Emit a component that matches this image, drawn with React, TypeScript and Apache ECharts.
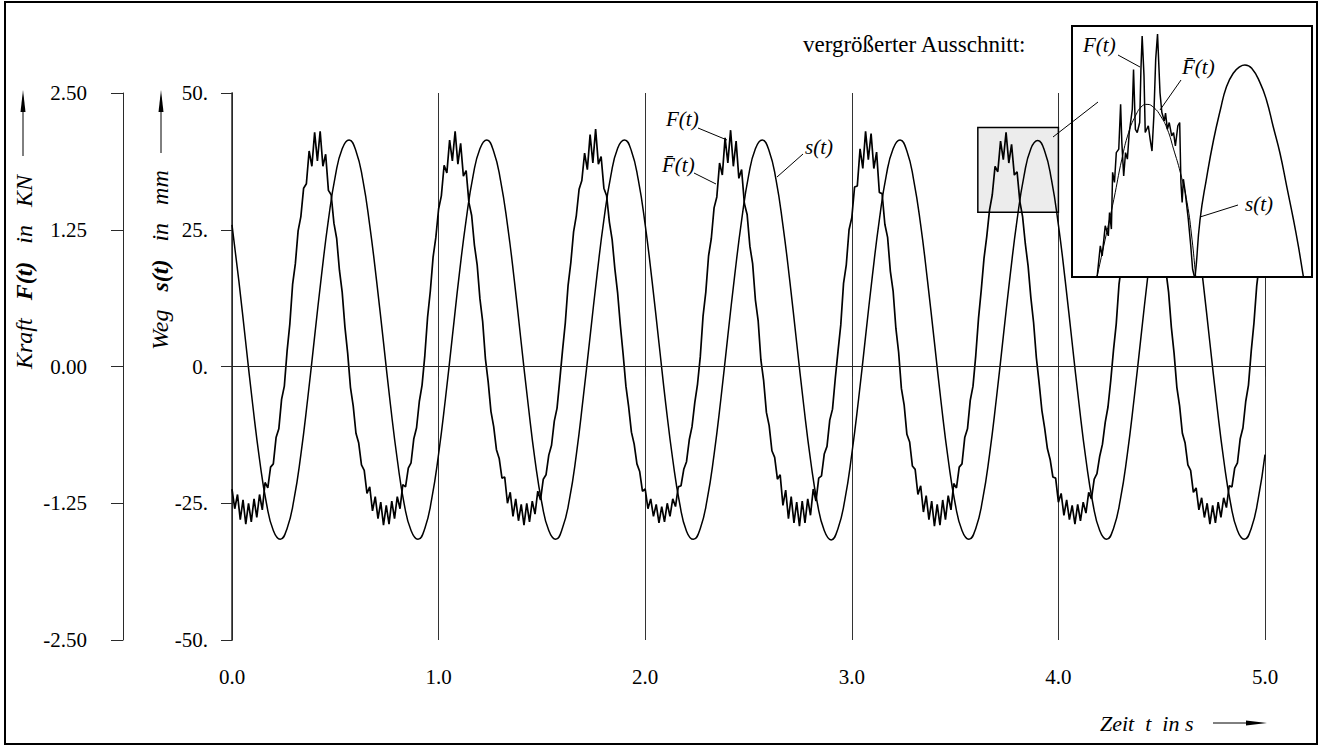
import React, { useEffect, useRef } from 'react';
import * as echarts from 'echarts';

// Weg s(t) in mm, sampled every 1/30 s from t = 0 to t = 5
const WEG_DT = 1 / 30;
const wegMM = [
  25.9, 15.6, 4.3, -6.9, -17.0, -25.0, -30.0, -31.6, -29.6, -24.3, -16.1, -5.8, 5.5, 16.7, 26.8, 34.8, 39.8, 41.4, 39.4, 34.1,
  25.8, 15.6, 4.4, -6.9, -17.0, -25.1, -30.0, -31.6, -29.6, -24.2, -16.0, -5.8, 5.5, 16.8, 26.8, 34.8, 39.8, 41.4, 39.3, 34.0,
  25.9, 15.7, 4.3, -6.9, -17.1, -25.0, -30.0, -31.6, -29.5, -24.3, -16.1, -5.7, 5.5, 16.7, 26.8, 34.8, 39.9, 41.4, 39.4, 34.1,
  25.9, 15.6, 4.3, -7.0, -17.0, -25.0, -30.1, -31.6, -29.6, -24.3, -16.1, -5.8, 5.6, 16.7, 26.7, 34.8, 39.8, 41.4, 39.4, 34.1,
  25.8, 15.6, 4.3, -6.9, -17.0, -25.0, -30.0, -31.7, -29.6, -24.3, -16.0, -5.8, 5.5, 16.7, 26.8, 34.9, 39.8, 41.4, 39.4, 34.0,
  25.9, 15.6, 4.4, -6.9, -17.0, -25.0, -30.0, -31.6, -29.6, -24.3, -16.1, -5.8, 5.5, 16.7, 26.8, 34.8, 39.8, 41.3, 39.4, 34.1,
  25.9, 15.6, 4.3, -6.9, -17.0, -25.0, -30.0, -31.6, -29.6, -24.3, -16.1, -5.8, 5.5, 16.7, 26.8, 34.8, 39.8, 41.4, 39.4, 34.1,
  25.9, 15.6, 4.3, -6.9, -17.0, -25.0, -30.0, -31.6, -29.6, -24.3, -16.1,
];

// Kraft F(t) in kN, sampled every 1/75 s from t = 0 to t = 5
const FORCE_DT = 1 / 75;
const forceStart = [-1.12, -1.30, -1.17, -1.40, -1.22, -1.44, -1.25, -1.42, -1.21, -1.38, -1.17, -1.31, -1.06, -1.11, -0.92, -0.89, -0.65, -0.57, -0.30, -0.18];
const forceCycle1 = [0.14, 0.39, 0.75, 0.94, 1.24, 1.37, 1.63, 1.67, 1.97, 1.83, 2.14, 1.88, 2.15, 1.83, 1.94, 1.61, 1.57, 1.31, 1.17, 0.88, 0.68, 0.36, 0.12, -0.19, -0.36, -0.61, -0.70, -0.90, -0.95, -1.16, -1.10, -1.32, -1.19, -1.39, -1.24, -1.45, -1.27, -1.44, -1.23, -1.39, -1.19, -1.30, -1.08, -1.10, -0.93, -0.88, -0.66, -0.56, -0.32, -0.17];
const forceCycle2 = [0.10, 0.45, 0.69, 1.00, 1.18, 1.44, 1.56, 1.84, 1.77, 2.07, 1.88, 2.15, 1.85, 2.04, 1.74, 1.79, 1.50, 1.38, 1.11, 0.93, 0.62, 0.41, 0.07, -0.14, -0.41, -0.55, -0.76, -0.84, -1.02, -1.01, -1.25, -1.15, -1.37, -1.21, -1.41, -1.26, -1.45, -1.25, -1.42, -1.23, -1.35, -1.14, -1.22, -1.03, -0.99, -0.81, -0.72, -0.50, -0.38, -0.12];
const forceCycle3 = [0.15, 0.40, 0.74, 0.95, 1.23, 1.38, 1.62, 1.70, 1.95, 1.80, 2.12, 1.86, 2.17, 1.85, 1.92, 1.63, 1.56, 1.32, 1.16, 0.89, 0.67, 0.37, 0.11, -0.18, -0.37, -0.60, -0.71, -0.89, -0.96, -1.14, -1.12, -1.30, -1.21, -1.37, -1.26, -1.43, -1.28, -1.42, -1.25, -1.37, -1.21, -1.28, -1.10, -1.09, -0.94, -0.87, -0.67, -0.55, -0.33, -0.16];
const forceCycle4 = [0.09, 0.46, 0.68, 1.01, 1.17, 1.45, 1.55, 1.86, 1.75, 2.09, 1.86, 2.16, 1.83, 2.06, 1.72, 1.80, 1.49, 1.39, 1.10, 0.94, 0.61, 0.42, 0.06, -0.13, -0.42, -0.54, -0.77, -0.83, -1.03, -0.99, -1.27, -1.13, -1.39, -1.19, -1.43, -1.24, -1.46, -1.23, -1.43, -1.21, -1.36, -1.12, -1.23, -1.02, -1.00, -0.80, -0.73, -0.49, -0.39, -0.11];
const forceCycle5 = [0.14, 0.38, 0.76, 0.93, 1.25, 1.36, 1.64, 1.65, 1.99, 1.81, 2.15, 1.89, 2.13, 1.81, 1.96, 1.59, 1.58, 1.30, 1.18, 0.87, 0.69, 0.35, 0.13, -0.20, -0.35, -0.62, -0.69, -0.91, -0.94, -1.17, -1.09, -1.33, -1.18, -1.40, -1.23, -1.46, -1.26, -1.45, -1.22, -1.40, -1.18, -1.31, -1.07, -1.11, -0.92, -0.89, -0.65, -0.57, -0.31, -0.18];
const forceCycle6 = [0.10, 0.44, 0.70, 0.99, 1.19, 1.43, 1.57, 1.83, 1.78, 2.06, 1.89, 2.14, 1.86, 2.03, 1.75, 1.78, 1.51, 1.37, 1.12, 0.92, 0.63, 0.40, 0.08, -0.15, -0.40, -0.56, -0.75, -0.85, -1.01, -1.02, -1.24, -1.16, -1.36, -1.22, -1.40, -1.27, -1.44, -1.26, -1.41, -1.24, -1.34, -1.15, -1.21, -1.03, -0.98, -0.82, -0.71, -0.51, -0.37, -0.13];
const forceCycle7 = [0.15, 0.39, 0.75, 0.94, 1.24, 1.37, 1.62, 1.68, 1.96, 1.84, 2.13, 1.87, 2.16, 1.84, 1.93, 1.62, 1.57, 1.31, 1.17, 0.88, 0.68, 0.36, 0.12, -0.19, -0.36, -0.61, -0.70, -0.90, -0.95, -1.15, -1.11, -1.31, -1.20, -1.38, -1.25, -1.44, -1.27, -1.43, -1.24, -1.38, -1.20, -1.29, -1.09, -1.10, -0.93, -0.88, -0.66, -0.56, -0.32, -0.17];
const forceEnd = [0.14, 0.40, 0.74, 0.95, 1.23, 1.38];

// Enlarged detail (inset): t in s, F in kN, s in mm
const insetForceT = [3.646, 3.651, 3.656, 3.659, 3.664, 3.669, 3.671, 3.674, 3.676, 3.679, 3.682, 3.686, 3.689, 3.691, 3.694, 3.697, 3.700, 3.703, 3.708, 3.710, 3.713, 3.716, 3.720, 3.722, 3.724, 3.727, 3.729, 3.734, 3.737, 3.740, 3.743, 3.746, 3.749, 3.753, 3.756, 3.760, 3.762, 3.765, 3.768, 3.772, 3.775, 3.778, 3.782, 3.785, 3.787, 3.789, 3.791, 3.794, 3.799, 3.803, 3.806, 3.810, 3.814];
const insetForceKN = [1.365, 1.414, 1.506, 1.475, 1.568, 1.537, 1.609, 1.558, 1.733, 1.702, 1.794, 1.805, 1.943, 1.825, 1.722, 1.794, 1.774, 1.856, 1.928, 2.051, 1.866, 1.856, 1.887, 2.051, 2.154, 2.031, 1.856, 1.877, 1.835, 1.799, 1.907, 2.082, 2.160, 1.979, 1.918, 1.892, 1.916, 1.866, 1.887, 1.846, 1.856, 1.815, 1.877, 1.887, 1.702, 1.640, 1.712, 1.671, 1.588, 1.506, 1.434, 1.403, 1.360];
const insetMeanT = [3.647, 3.651, 3.664, 3.678, 3.691, 3.702, 3.713, 3.724, 3.732, 3.743, 3.754, 3.765, 3.775, 3.786, 3.797, 3.805, 3.811, 3.813];
const insetMeanKN = [1.38, 1.414, 1.527, 1.650, 1.774, 1.856, 1.907, 1.938, 1.943, 1.933, 1.907, 1.866, 1.805, 1.733, 1.640, 1.527, 1.414, 1.38];
const insetWegT = [3.806, 3.810, 3.818, 3.829, 3.840, 3.851, 3.861, 3.872, 3.883, 3.891, 3.902, 3.916, 3.926, 3.937, 3.948, 3.959, 3.970, 3.978, 3.986, 3.990];
const insetWegMM = [27.6, 28.22, 31.72, 34.39, 36.66, 38.51, 39.95, 40.78, 41.19, 41.29, 41.09, 40.16, 39.13, 37.48, 35.84, 33.78, 31.72, 30.07, 28.22, 27.4];

// Axis ranges / ticks
const timeRange = [0, 5];
const timeStep = 1;
const wegRange = [-50, 50];
const wegStep = 25;
const kraftRange = [-2.5, 2.5];
const kraftStep = 1.25;
const detailTime = [3.61, 4.0];
const detailWeg = [28.2, 43.7];

const SERIF = "'Liberation Serif', 'Times New Roman', serif";
const INK = '#000';
const AX = '#2a2a2a';
const NB = '\u00a0';

export default function App() {
  const ref = useRef<HTMLDivElement>(null);

  useEffect(() => {
    const chart = echarts.init(ref.current as HTMLDivElement, null, { renderer: 'svg' });

    const forceKN = [
      ...forceStart, ...forceCycle1, ...forceCycle2, ...forceCycle3, ...forceCycle4,
      ...forceCycle5, ...forceCycle6, ...forceCycle7, ...forceEnd,
    ];
    const wegData = wegMM.map((v, i) => [i * WEG_DT, v]);
    const forceData = forceKN.map((v, i) => [i * FORCE_DT, v]);
    const insetForce = insetForceT.map((t, i) => [t, insetForceKN[i]]);
    const insetMean = insetMeanT.map((t, i) => [t, insetMeanKN[i]]);
    const insetWeg = insetWegT.map((t, i) => [t, insetWegMM[i]]);

    const labelFont = { fontFamily: SERIF, fontSize: 21, color: INK };
    const it = (size: number) => `italic ${size}px ${SERIF}`;
    const titleRich = {
      i: { fontStyle: 'italic', fontSize: 24, fontFamily: SERIF, fill: INK },
      b: { fontStyle: 'italic', fontWeight: 'bold', fontSize: 24, fontFamily: SERIF, fill: INK },
    };
    const gap = NB + NB + NB;

    const option: any = {
      animation: false,
      backgroundColor: '#fff',
      textStyle: { fontFamily: SERIF },
      grid: [
        { left: 232, top: 93, width: 1033, height: 547, containLabel: false },
        { left: 1072, top: 26, width: 240, height: 251, containLabel: false },
      ],
      xAxis: [
        {
          type: 'value', gridIndex: 0, position: 'bottom',
          min: timeRange[0], max: timeRange[1], interval: timeStep,
          axisLine: { show: true, lineStyle: { color: AX, width: 1 } },
          axisTick: { show: true, inside: false, length: 10, lineStyle: { color: AX } },
          axisLabel: { ...labelFont, margin: 26, formatter: (v: number) => v.toFixed(1) },
          splitLine: { show: true, lineStyle: { color: '#333', width: 1 } },
        },
        {
          type: 'value', gridIndex: 0, position: 'top',
          min: timeRange[0], max: timeRange[1], interval: timeStep,
          axisLine: { show: true, lineStyle: { color: AX, width: 1 } },
          axisTick: { show: false }, axisLabel: { show: false }, splitLine: { show: false },
        },
        { type: 'value', gridIndex: 1, min: detailTime[0], max: detailTime[1], show: false },
      ],
      yAxis: [
        {
          type: 'value', gridIndex: 0, position: 'left',
          min: wegRange[0], max: wegRange[1], interval: wegStep,
          axisLine: { show: true, lineStyle: { color: AX, width: 1 } },
          axisTick: { show: true, inside: false, length: 11, lineStyle: { color: AX } },
          axisLabel: { ...labelFont, margin: 24, formatter: (v: number) => `${v}.` },
          splitLine: { show: false },
        },
        {
          type: 'value', gridIndex: 0, position: 'left', offset: 109,
          min: kraftRange[0], max: kraftRange[1], interval: kraftStep,
          axisLine: { show: true, onZero: false, lineStyle: { color: AX, width: 1 } },
          axisTick: { show: true, inside: false, length: 12, lineStyle: { color: AX } },
          axisLabel: { ...labelFont, margin: 36, formatter: (v: number) => v.toFixed(2) },
          splitLine: { show: false },
        },
        {
          type: 'value', gridIndex: 0, position: 'right',
          min: wegRange[0], max: wegRange[1], interval: wegStep,
          axisLine: { show: true, lineStyle: { color: AX, width: 1.5 } },
          axisTick: { show: false }, axisLabel: { show: false }, splitLine: { show: false },
        },
        { type: 'value', gridIndex: 1, min: detailWeg[0] / 20, max: detailWeg[1] / 20, show: false },
        { type: 'value', gridIndex: 1, min: detailWeg[0], max: detailWeg[1], show: false },
      ],
      series: [
        {
          name: 's(t)', type: 'line', xAxisIndex: 0, yAxisIndex: 0, data: wegData,
          smooth: true, symbol: 'none', silent: true, z: 2,
          lineStyle: { color: INK, width: 1.5 },
          markLine: {
            silent: true, symbol: ['none', 'none'], label: { show: false },
            lineStyle: { color: '#222', width: 1, type: 'solid' },
            data: [{ yAxis: 0 }],
          },
          markArea: {
            silent: true,
            itemStyle: { color: '#ececec', borderColor: INK, borderWidth: 1.5 },
            data: [[{ coord: [detailTime[0], detailWeg[1]] }, { coord: [detailTime[1], detailWeg[0]] }]],
          },
        },
        {
          name: 'F(t)', type: 'line', xAxisIndex: 0, yAxisIndex: 1, data: forceData,
          symbol: 'none', silent: true, z: 3,
          lineStyle: { color: INK, width: 1.7 },
        },
        {
          name: 'inset F(t)', type: 'line', xAxisIndex: 2, yAxisIndex: 3, data: insetForce,
          symbol: 'none', silent: true, z: 60, lineStyle: { color: INK, width: 1.5 },
        },
        {
          name: 'inset Fbar(t)', type: 'line', xAxisIndex: 2, yAxisIndex: 3, data: insetMean,
          smooth: true, symbol: 'none', silent: true, z: 60, lineStyle: { color: INK, width: 1 },
        },
        {
          name: 'inset s(t)', type: 'line', xAxisIndex: 2, yAxisIndex: 4, data: insetWeg,
          smooth: true, symbol: 'none', silent: true, z: 60, lineStyle: { color: INK, width: 1.5 },
        },
      ],
      graphic: [
        // outer frame
        { type: 'rect', z: 100, silent: true, shape: { x: 5, y: 2, width: 1312, height: 742 }, style: { fill: 'none', stroke: INK, lineWidth: 2 } },
        // inset frame
        { type: 'rect', z: 50, silent: true, shape: { x: 1072, y: 26, width: 240, height: 251 }, style: { fill: '#fff', stroke: INK, lineWidth: 2 } },
        // connector from highlighted region to inset
        { type: 'line', z: 70, silent: true, shape: { x1: 1053, y1: 137, x2: 1098, y2: 102 }, style: { stroke: INK, lineWidth: 1 } },
        // title of inset
        { type: 'text', z: 70, silent: true, x: 803, y: 44, style: { text: 'vergrößerter Ausschnitt:', font: `23px ${SERIF}`, fill: INK, textAlign: 'left', textVerticalAlign: 'middle' } },
        // Kraft axis title + arrow
        {
          type: 'text', z: 70, silent: true, x: 24, y: 369, rotation: Math.PI / 2,
          style: {
            text: `{i|Kraft${gap}}{b|F(t)}{i|${gap}in${gap}KN}`,
            rich: titleRich, textAlign: 'left', textVerticalAlign: 'middle',
          },
        },
        { type: 'line', z: 70, silent: true, shape: { x1: 23, y1: 156, x2: 23, y2: 105 }, style: { stroke: INK, lineWidth: 1 } },
        { type: 'polygon', z: 70, silent: true, shape: { points: [[23, 90], [20.5, 112], [25.5, 112]] }, style: { fill: INK } },
        // Weg axis title + arrow
        {
          type: 'text', z: 70, silent: true, x: 160, y: 350, rotation: Math.PI / 2,
          style: {
            text: `{i|Weg${gap}}{b|s(t)}{i|${gap}in${gap}mm}`,
            rich: titleRich, textAlign: 'left', textVerticalAlign: 'middle',
          },
        },
        { type: 'line', z: 70, silent: true, shape: { x1: 161, y1: 153, x2: 161, y2: 105 }, style: { stroke: INK, lineWidth: 1 } },
        { type: 'polygon', z: 70, silent: true, shape: { points: [[161, 90], [158.5, 112], [163.5, 112]] }, style: { fill: INK } },
        // Zeit axis title + arrow
        { type: 'text', z: 70, silent: true, x: 1100, y: 723, style: { text: `Zeit${NB}${NB}t${NB}${NB}in${NB}s`, font: it(22), fill: INK, textAlign: 'left', textVerticalAlign: 'middle' } },
        { type: 'line', z: 70, silent: true, shape: { x1: 1213, y1: 723, x2: 1250, y2: 723 }, style: { stroke: INK, lineWidth: 1 } },
        { type: 'polygon', z: 70, silent: true, shape: { points: [[1267, 723], [1246, 720.5], [1246, 725.5]] }, style: { fill: INK } },
        // curve labels in the main plot
        { type: 'text', z: 70, silent: true, x: 666, y: 119, style: { text: 'F(t)', font: it(21), fill: INK, textAlign: 'left', textVerticalAlign: 'middle' } },
        { type: 'line', z: 70, silent: true, shape: { x1: 698, y1: 128, x2: 727, y2: 140 }, style: { stroke: INK, lineWidth: 1 } },
        { type: 'text', z: 70, silent: true, x: 662, y: 165, style: { text: 'F\u0304(t)', font: it(21), fill: INK, textAlign: 'left', textVerticalAlign: 'middle' } },
        { type: 'line', z: 70, silent: true, shape: { x1: 694, y1: 173, x2: 716, y2: 184 }, style: { stroke: INK, lineWidth: 1 } },
        { type: 'text', z: 70, silent: true, x: 805, y: 147, style: { text: 's(t)', font: it(21), fill: INK, textAlign: 'left', textVerticalAlign: 'middle' } },
        { type: 'line', z: 70, silent: true, shape: { x1: 803, y1: 154, x2: 777, y2: 177 }, style: { stroke: INK, lineWidth: 1 } },
        // curve labels in the inset
        { type: 'text', z: 70, silent: true, x: 1083, y: 45, style: { text: 'F(t)', font: it(21), fill: INK, textAlign: 'left', textVerticalAlign: 'middle' } },
        { type: 'line', z: 70, silent: true, shape: { x1: 1118, y1: 55, x2: 1140, y2: 67 }, style: { stroke: INK, lineWidth: 1 } },
        { type: 'text', z: 70, silent: true, x: 1182, y: 67, style: { text: 'F\u0304(t)', font: it(21), fill: INK, textAlign: 'left', textVerticalAlign: 'middle' } },
        { type: 'line', z: 70, silent: true, shape: { x1: 1181, y1: 80, x2: 1160, y2: 110 }, style: { stroke: INK, lineWidth: 1 } },
        { type: 'text', z: 70, silent: true, x: 1245, y: 204, style: { text: 's(t)', font: it(21), fill: INK, textAlign: 'left', textVerticalAlign: 'middle' } },
        { type: 'line', z: 70, silent: true, shape: { x1: 1238, y1: 205, x2: 1200, y2: 217 }, style: { stroke: INK, lineWidth: 1 } },
      ],
    };

    chart.setOption(option);
    return () => chart.dispose();
  }, []);

  return (
    <div
      ref={ref}
      style={{ position: 'fixed', left: 0, top: 0, width: 1321, height: 747, background: '#fff' }}
    />
  );
}
